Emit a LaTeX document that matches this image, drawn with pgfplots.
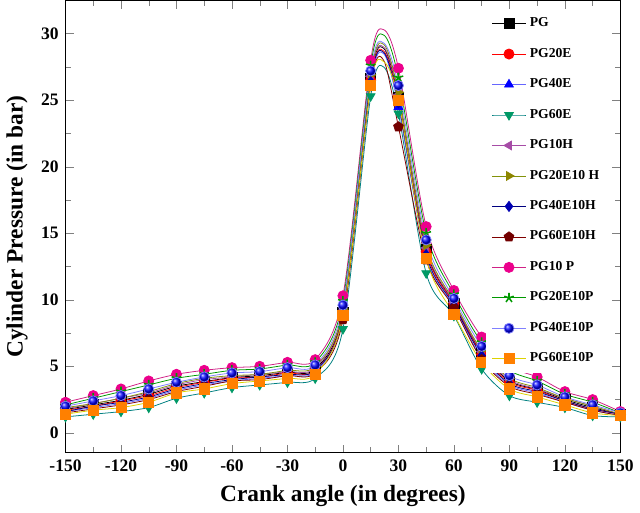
\documentclass[border=0pt]{standalone}
\usepackage{pgfplots}
\pgfplotsset{compat=1.18}
\usepackage{fontspec}
\setmainfont{Liberation Serif}
\usetikzlibrary{plotmarks}
\begin{document}
\begin{tikzpicture}
\begin{axis}[
 width=11.6cm,height=9.75cm,
 xmin=-150,xmax=150,ymin=-1.5,ymax=32.5,
 xtick={-150,-120,...,150},ytick={0,5,...,30},
 tick align=inside, minor x tick num=1, minor y tick num=1,
 tick label style={font=\bfseries\small},
 /pgf/number format/assume math mode=true,
 xlabel={\bfseries\large Crank angle (in degrees)},
 ylabel={\bfseries\large Cylinder Pressure (in bar)},
 legend style={draw=none,font=\bfseries\scriptsize,at={(0.98,0.98)},anchor=north east,row sep=5.5pt},
 legend cell align=left,
 legend image post style={mark indices={2}},
 every axis plot/.append style={smooth,thin,mark size=2.6pt,mark indices={1,...,12,14,15,16,17,18,19,20,21,22}},
]
\newcommand{\pl}[4]{\addplot[color=#1,mark=#2,mark options={#3}] coordinates {#4};}
\pl{black}{square*}{fill=black,draw=black}{(-150,1.75)(-135,2.1)(-120,2.45)(-105,2.9)(-90,3.5)(-75,3.85)(-60,4.15)(-45,4.3)(-30,4.55)(-15,4.8)(0,9.05)(15,26.65)(22,28.9)(30,25.2)(45,13.75)(60,9.75)(75,6.0)(90,3.9)(105,3.25)(120,2.5)(135,1.9)(150,1.4)}
\addlegendentry{PG}
\pl{red}{*}{fill=red,draw=red}{(-150,1.7)(-135,2.0)(-120,2.4)(-105,2.8)(-90,3.4)(-75,3.8)(-60,4.1)(-45,4.2)(-30,4.5)(-15,4.7)(0,8.9)(15,26.5)(22,28.7)(30,25.0)(45,13.6)(60,9.7)(75,5.9)(90,3.8)(105,3.2)(120,2.4)(135,1.8)(150,1.4)}
\addlegendentry{PG20E}
\pl{blue!60}{triangle*}{fill=blue,draw=blue}{(-150,1.6)(-135,1.9)(-120,2.2)(-105,2.6)(-90,3.2)(-75,3.6)(-60,3.9)(-45,4.1)(-30,4.3)(-15,4.6)(0,8.7)(15,26.2)(22,28.5)(30,24.5)(45,13.2)(60,9.5)(75,5.6)(90,3.6)(105,3.0)(120,2.3)(135,1.7)(150,1.3)}
\addlegendentry{PG40E}
\pl{teal}{triangle*}{rotate=180,fill=teal!80!green,draw=teal!80!green}{(-150,1.2)(-135,1.4)(-120,1.6)(-105,1.9)(-90,2.6)(-75,3.0)(-60,3.4)(-45,3.6)(-30,3.8)(-15,4.1)(0,7.8)(15,25.3)(22,27.5)(30,24.0)(45,12.0)(60,8.8)(75,4.8)(90,2.8)(105,2.3)(120,1.9)(135,1.3)(150,1.2)}
\addlegendentry{PG60E}
\pl{violet!70}{triangle*}{rotate=90,fill=violet!70,draw=violet!70}{(-150,1.8)(-135,2.2)(-120,2.6)(-105,3.0)(-90,3.6)(-75,4.0)(-60,4.2)(-45,4.4)(-30,4.6)(-15,4.9)(0,9.2)(15,26.8)(22,29.0)(30,25.4)(45,13.9)(60,9.8)(75,6.1)(90,4.0)(105,3.3)(120,2.6)(135,2.0)(150,1.4)}
\addlegendentry{PG10H}
\pl{olive!80!green}{triangle*}{rotate=-90,fill=olive,draw=olive}{(-150,1.9)(-135,2.2)(-120,2.6)(-105,3.1)(-90,3.7)(-75,4.1)(-60,4.3)(-45,4.4)(-30,4.7)(-15,5.0)(0,9.3)(15,26.9)(22,29.2)(30,25.6)(45,14.1)(60,9.9)(75,6.2)(90,4.1)(105,3.4)(120,2.6)(135,2.0)(150,1.4)}
\addlegendentry{PG20E10 H}
\pl{blue!50!black}{diamond*}{fill=blue!70!black,draw=blue!70!black}{(-150,1.6)(-135,2.0)(-120,2.3)(-105,2.7)(-90,3.3)(-75,3.7)(-60,4.0)(-45,4.2)(-30,4.4)(-15,4.7)(0,8.8)(15,26.4)(22,28.6)(30,24.8)(45,13.4)(60,9.6)(75,5.8)(90,3.7)(105,3.1)(120,2.4)(135,1.8)(150,1.4)}
\addlegendentry{PG40E10H}
\pl{red!50!black}{pentagon*}{fill=red!45!black,draw=red!45!black}{(-150,1.5)(-135,1.8)(-120,2.1)(-105,2.5)(-90,3.1)(-75,3.5)(-60,3.9)(-45,4.0)(-30,4.3)(-15,4.5)(0,8.5)(15,26.1)(22,28.0)(30,23.0)(45,13.0)(60,9.4)(75,5.5)(90,3.5)(105,2.9)(120,2.3)(135,1.7)(150,1.3)}
\addlegendentry{PG60E10H}
\pl{magenta!70!violet}{*}{fill=magenta,draw=magenta}{(-150,2.3)(-135,2.8)(-120,3.3)(-105,3.9)(-90,4.4)(-75,4.7)(-60,4.9)(-45,5.0)(-30,5.3)(-15,5.5)(0,10.3)(15,28.0)(22,30.3)(30,27.4)(45,15.5)(60,10.7)(75,7.2)(90,5.0)(105,4.2)(120,3.1)(135,2.5)(150,1.6)}
\addlegendentry{PG10 P}
\pl{green!60!black}{star}{draw=green!60!black,thick}{(-150,2.1)(-135,2.6)(-120,3.1)(-105,3.6)(-90,4.1)(-75,4.4)(-60,4.7)(-45,4.8)(-30,5.1)(-15,5.3)(0,9.9)(15,27.6)(22,29.9)(30,26.7)(45,15.0)(60,10.4)(75,6.8)(90,4.7)(105,3.9)(120,2.9)(135,2.3)(150,1.5)}
\addlegendentry{PG20E10P}
\pl{blue!50}{ball}{ball color=blue}{(-150,2.0)(-135,2.4)(-120,2.8)(-105,3.3)(-90,3.8)(-75,4.2)(-60,4.5)(-45,4.6)(-30,4.9)(-15,5.1)(0,9.6)(15,27.2)(22,29.3)(30,26.1)(45,14.5)(60,10.1)(75,6.5)(90,4.3)(105,3.6)(120,2.7)(135,2.1)(150,1.5)}
\addlegendentry{PG40E10P}
\pl{yellow!70!olive}{square*}{fill=orange,draw=orange}{(-150,1.4)(-135,1.7)(-120,1.9)(-105,2.3)(-90,3.0)(-75,3.3)(-60,3.7)(-45,3.9)(-30,4.1)(-15,4.4)(0,8.8)(15,26.1)(22,27.9)(30,25.0)(45,13.1)(60,8.9)(75,5.3)(90,3.3)(105,2.7)(120,2.1)(135,1.5)(150,1.3)}
\addlegendentry{PG60E10P}
\end{axis}
\end{tikzpicture}
\end{document}
